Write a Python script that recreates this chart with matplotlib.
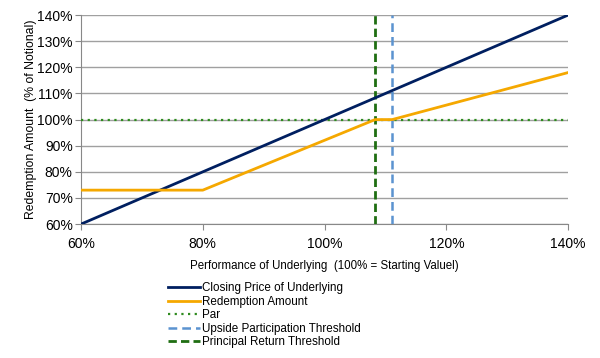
import matplotlib.pyplot as plt
from matplotlib.ticker import FuncFormatter

plt.rcParams['font.family'] = ['Liberation Sans', 'DejaVu Sans']

perf = [60, 140]
closing = [60, 140]

redemption_x = [60, 80, 108.3, 111.1, 140]
redemption_y = [73, 73, 100, 100, 118]

par_level = 100
upside_threshold = 111.1
principal_threshold = 108.3

fig = plt.figure(figsize=(6, 3.58), dpi=100)
ax = fig.add_axes([0.135, 0.374, 0.812, 0.584])

ax.plot(perf, closing, color='#001f60', lw=2, label='Closing Price of Underlying', zorder=4)
ax.plot(redemption_x, redemption_y, color='#f5a800', lw=2, label='Redemption Amount', zorder=4)
ax.axhline(par_level, color='#2e8b1e', lw=1.6, ls=(0, (1, 2)), label='Par', zorder=3)
ax.axvline(upside_threshold, color='#5b93d0', lw=1.8, ls=(0, (3.5, 2)), label='Upside Participation Threshold', zorder=3)
ax.axvline(principal_threshold, color='#1f6e12', lw=2, ls=(0, (3, 1.5)), label='Principal Return Threshold', zorder=3)

ax.set_xlim(60, 140)
ax.set_ylim(60, 140)
ax.set_xticks(range(60, 141, 20))
ax.set_yticks(range(60, 141, 10))
pct = FuncFormatter(lambda v, p: f'{v:.0f}%')
ax.xaxis.set_major_formatter(pct)
ax.yaxis.set_major_formatter(pct)
ax.tick_params(labelsize=10, length=4, color='#888888')
ax.tick_params(axis='x', pad=5)
ax.tick_params(axis='y', pad=2)
ax.grid(axis='y', color='#a0a0a0', lw=1)
ax.set_axisbelow(True)
for s in ['top', 'right']:
    ax.spines[s].set_visible(False)
for s in ['left', 'bottom']:
    ax.spines[s].set_color('#888888')

ax.set_xlabel('Performance of Underlying  (100% = Starting Valuel)', fontsize=8.3, labelpad=7)
ax.set_ylabel('Redemption Amount  (% of Notional)', fontsize=8.8, labelpad=0)

fig.legend(loc='upper left', bbox_to_anchor=(0.272, 0.225), frameon=False, fontsize=8.4,
           handlelength=2.75, handletextpad=0.2, labelspacing=0.13, borderaxespad=0)

fig.savefig('out.png', dpi=100)
